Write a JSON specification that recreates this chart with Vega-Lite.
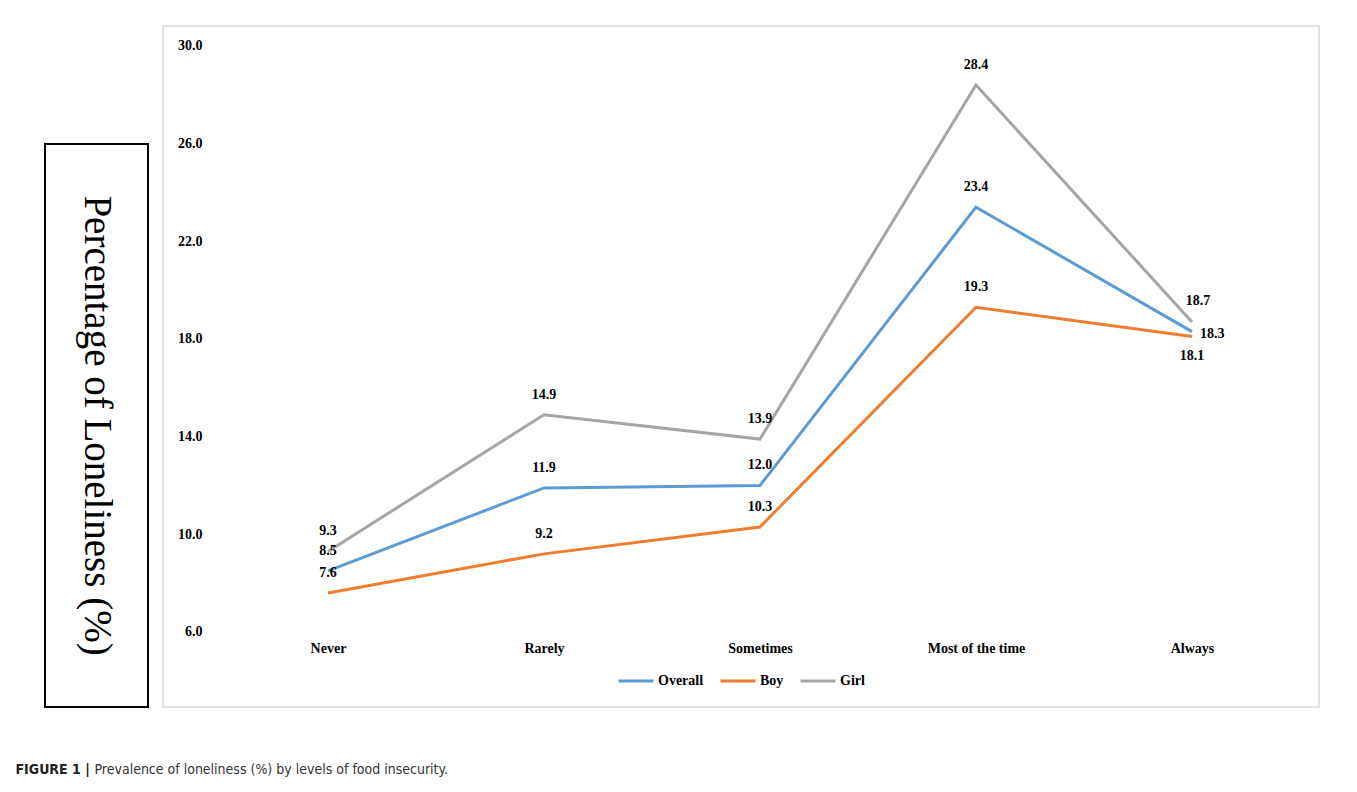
{
  "$schema": "https://vega.github.io/schema/vega-lite/v6.json",
  "background": "white",
  "padding": {"left": 15, "top": 20, "right": 0, "bottom": 0},
  "config": {"view": {"stroke": null}, "font": "Liberation Serif"},
  "datasets": {
    "loneliness": [
      {"level": "Never", "series": "Overall", "value": 8.5},
      {"level": "Rarely", "series": "Overall", "value": 11.9},
      {"level": "Sometimes", "series": "Overall", "value": 12.0},
      {"level": "Most of the time", "series": "Overall", "value": 23.4},
      {"level": "Always", "series": "Overall", "value": 18.3},
      {"level": "Never", "series": "Boy", "value": 7.6},
      {"level": "Rarely", "series": "Boy", "value": 9.2},
      {"level": "Sometimes", "series": "Boy", "value": 10.3},
      {"level": "Most of the time", "series": "Boy", "value": 19.3},
      {"level": "Always", "series": "Boy", "value": 18.1},
      {"level": "Never", "series": "Girl", "value": 9.3},
      {"level": "Rarely", "series": "Girl", "value": 14.9},
      {"level": "Sometimes", "series": "Girl", "value": 13.9},
      {"level": "Most of the time", "series": "Girl", "value": 28.4},
      {"level": "Always", "series": "Girl", "value": 18.7}
    ]
  },
  "vconcat": [
    {
      "hconcat": [
        {
          "vconcat": [
            {
              "width": 100,
              "height": 1,
              "view": {"stroke": "transparent"},
              "data": {"values": [{"t": ""}]},
              "mark": {"type": "text"},
              "encoding": {"text": {"field": "t"}}
            },
            {
              "width": 103,
              "height": 563,
              "view": {"stroke": "#000000", "strokeWidth": 2},
              "data": {"values": [{"label": "Percentage of Loneliness (%)"}]},
              "mark": {"type": "text", "angle": 90, "font": "Liberation Serif", "fontSize": 39, "color": "#000000", "align": "center", "baseline": "middle"},
              "encoding": {"text": {"field": "label"}}
            }
          ],
          "spacing": 111
        },
        {
          "width": 1156,
          "height": 681,
          "view": {"stroke": "#d9d9d9", "strokeWidth": 1.5},
          "data": {"name": "loneliness"},
          "encoding": {
            "x": {
              "field": "level",
              "type": "nominal",
              "sort": ["Never", "Rarely", "Sometimes", "Most of the time", "Always"],
              "scale": {"type": "point", "domain": ["Never", "Rarely", "Sometimes", "Most of the time", "Always"], "padding": 0.676, "align": 0.565},
              "axis": {"title": null, "orient": "bottom", "offset": -75, "domain": false, "ticks": false, "tickSize": 0, "grid": false, "labelPadding": 9, "labelAngle": 0, "labelFont": "Liberation Serif", "labelFontWeight": "bold", "labelFontSize": 14, "labelColor": "#000000"}
            },
            "y": {
              "field": "value",
              "type": "quantitative",
              "scale": {"domain": [2.928, 30.819], "nice": false, "zero": false},
              "axis": {"title": null, "orient": "left", "offset": -42, "values": [6, 10, 14, 18, 22, 26, 30], "format": ".1f", "domain": false, "ticks": false, "tickSize": 0, "grid": false, "labelPadding": 3, "labelFont": "Liberation Serif", "labelFontWeight": "bold", "labelFontSize": 14, "labelColor": "#000000"}
            }
          },
          "layer": [
            {
              "data": {"values": [{"k": 1}]},
              "mark": {"type": "rule", "color": "#d9d9d9", "strokeWidth": 1.5, "xOffset": -108, "x2Offset": 108},
              "encoding": {
                "x": {"datum": "Never", "type": "nominal"},
                "x2": {"datum": "Always"},
                "y": {"datum": 6, "type": "quantitative"}
              }
            },
            {
              "mark": {"type": "line", "strokeWidth": 3},
              "encoding": {
                "color": {
                  "field": "series",
                  "type": "nominal",
                  "sort": ["Overall", "Boy", "Girl"],
                  "scale": {"domain": ["Overall", "Boy", "Girl"], "range": ["#5b9bd5", "#ed7d31", "#a5a5a5"]},
                  "legend": {"title": null, "orient": "none", "legendX": 572, "legendY": 636, "direction": "horizontal", "symbolType": "stroke", "symbolSize": 1225, "symbolStrokeWidth": 3, "labelFont": "Liberation Serif", "labelFontWeight": "bold", "labelFontSize": 14, "labelColor": "#000000", "columnPadding": 10, "labelOffset": 3, "padding": 0}
                }
              }
            },
            {
              "transform": [{"filter": "datum.level != 'Always'"}],
              "mark": {"type": "text", "dy": -20, "font": "Liberation Serif", "fontWeight": "bold", "fontSize": 14, "color": "#000000"},
              "encoding": {"text": {"field": "value", "type": "quantitative", "format": ".1f"}}
            },
            {
              "transform": [{"filter": "datum.level == 'Always' && datum.series == 'Girl'"}],
              "mark": {"type": "text", "dy": -21, "dx": 6, "font": "Liberation Serif", "fontWeight": "bold", "fontSize": 14, "color": "#000000"},
              "encoding": {"text": {"field": "value", "type": "quantitative", "format": ".1f"}}
            },
            {
              "transform": [{"filter": "datum.level == 'Always' && datum.series == 'Overall'"}],
              "mark": {"type": "text", "align": "left", "dx": 8, "dy": 2, "font": "Liberation Serif", "fontWeight": "bold", "fontSize": 14, "color": "#000000"},
              "encoding": {"text": {"field": "value", "type": "quantitative", "format": ".1f"}}
            },
            {
              "transform": [{"filter": "datum.level == 'Always' && datum.series == 'Boy'"}],
              "mark": {"type": "text", "dy": 19, "font": "Liberation Serif", "fontWeight": "bold", "fontSize": 14, "color": "#000000"},
              "encoding": {"text": {"field": "value", "type": "quantitative", "format": ".1f"}}
            }
          ]
        }
      ],
      "spacing": 13
    },
    {
      "hconcat": [
        {
          "width": 1,
          "height": 1,
          "data": {"values": [{"t": "FIGURE 1 |"}]},
          "mark": {"type": "text", "align": "left", "dx": -30, "font": "DejaVu Sans Condensed, Liberation Sans, sans-serif", "fontWeight": "bold", "fontSize": 14, "color": "#222222"},
          "encoding": {"text": {"field": "t"}}
        },
        {
          "width": 1,
          "height": 1,
          "data": {"values": [{"t": "Prevalence of loneliness (%) by levels of food insecurity."}]},
          "mark": {"type": "text", "align": "left", "font": "DejaVu Sans Condensed, Liberation Sans, sans-serif", "fontSize": 14, "color": "#333333"},
          "encoding": {"text": {"field": "t"}}
        }
      ],
      "spacing": 4
    }
  ],
  "spacing": 54
}
